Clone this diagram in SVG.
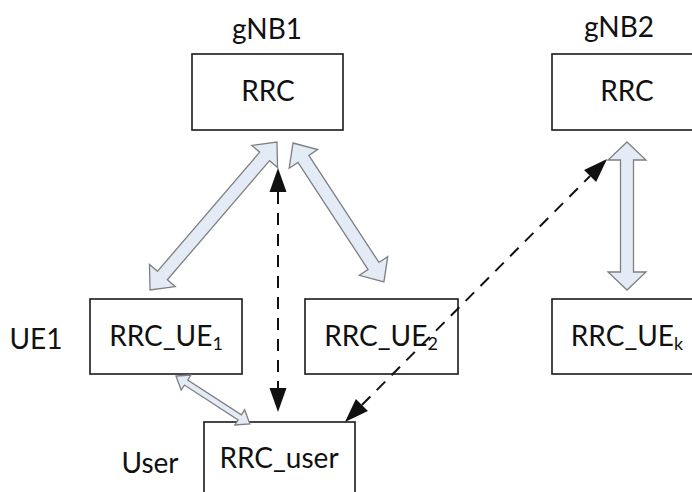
<svg xmlns="http://www.w3.org/2000/svg" width="692" height="492" viewBox="0 0 692 492">
  <style>
    .box { fill: #ffffff; stroke: #1a1a1a; stroke-width: 1.6; }
    .txt { font-family: Lato, "Liberation Sans", sans-serif; font-size: 28px; fill: #111111; text-anchor: middle; }
    .sub { font-size: 18px; }
    .block { fill: #e3ebf6; stroke: #7f7f7f; stroke-width: 1.3; stroke-linejoin: miter; }
    .dash { fill: none; stroke: #111111; stroke-width: 2; stroke-dasharray: 12 9; marker-start: url(#head); marker-end: url(#head); }
  </style>
  <defs>
    <marker id="head" markerUnits="userSpaceOnUse" markerWidth="24" markerHeight="17" refX="0" refY="8.5" orient="auto-start-reverse" overflow="visible">
      <path d="M0,0 L24,8.5 L0,17 Z" fill="#111111"/>
    </marker>
  </defs>

  <rect width="692" height="492" fill="#ffffff"/>

  <!-- side labels -->
  <text class="txt" x="267" y="39">gNB1</text>
  <text class="txt" x="619" y="37">gNB2</text>
  <text class="txt" x="36" y="349">UE1</text>
  <text class="txt" x="150" y="473">User</text>

  <g id="gnb1-rrc">
    <rect class="box" x="192" y="54" width="151" height="76"/>
    <text class="txt" x="268" y="101">RRC</text>
  </g>

  <g id="gnb2-rrc">
    <rect class="box" x="552" y="54" width="150" height="76"/>
    <text class="txt" x="627" y="101">RRC</text>
  </g>

  <g id="rrc-ue1">
    <rect class="box" x="90" y="299" width="152" height="75"/>
    <text class="txt" x="166" y="346">RRC_UE<tspan class="sub" dy="4">1</tspan></text>
  </g>

  <g id="rrc-ue2">
    <rect class="box" x="305" y="299" width="153" height="75"/>
    <text class="txt" x="381" y="346">RRC_UE<tspan class="sub" dy="4">2</tspan></text>
  </g>

  <g id="rrc-uek">
    <rect class="box" x="552" y="299" width="150" height="75"/>
    <text class="txt" x="627" y="346">RRC_UE<tspan class="sub" dy="4">k</tspan></text>
  </g>

  <g id="rrc-user">
    <rect class="box" x="204" y="422" width="151" height="80"/>
    <text class="txt" x="279" y="468">RRC_user</text>
  </g>

  <g id="connectors">
    <!-- double-headed block arrows, drawn along +x and rotated into place -->
    <polygon class="block" transform="translate(277,142) rotate(130.63)"
      points="0,0 19,-17 19,-6.5 176,-6.5 176,-17 195,0 176,17 176,6.5 19,6.5 19,17"/>
    <polygon class="block" transform="translate(293,143) rotate(56.79)"
      points="0,0 19,-17 19,-6.5 147,-6.5 147,-17 166,0 147,17 147,6.5 19,6.5 19,17"/>
    <polygon class="block" transform="translate(627,142) rotate(90)"
      points="0,0 18,-19 18,-6.5 130,-6.5 130,-19 148,0 130,19 130,6.5 18,6.5 18,19"/>
    <polygon class="block" transform="translate(176,376) rotate(32.97)"
      points="0,0 12,-9 12,-3 76,-3 76,-9 88,0 76,9 76,3 12,3 12,9"/>

    <!-- dashed signalling paths -->
    <path class="dash" d="M278,192 L278,388"/>
    <path class="dash" d="M361.9,405 L590.1,176"/>
  </g>
</svg>
